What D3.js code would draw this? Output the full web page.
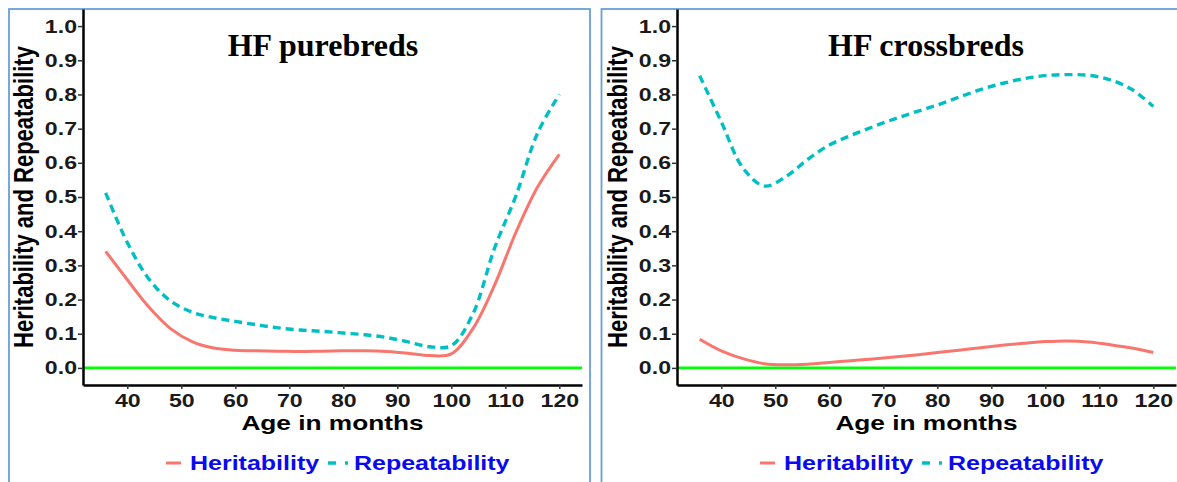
<!DOCTYPE html>
<html>
<head>
<meta charset="utf-8">
<script src="https://cdn.jsdelivr.net/npm/d3@7"></script>
<style>
  body { margin: 0; background: #fff; }
  svg { display: block; }
</style>
</head>
<body>
<script>
var ages = [36, 40, 44, 48, 52, 56, 60, 64, 68, 72, 76, 80, 84, 88, 92, 96, 100, 104, 108, 112, 116, 120];

var pureHerit = [0.341, 0.258, 0.178, 0.115, 0.077, 0.058, 0.052, 0.050, 0.049, 0.048, 0.049, 0.050,
                 0.050, 0.048, 0.043, 0.036, 0.041, 0.115, 0.242, 0.398, 0.530, 0.625];
var pureRepeat = [0.512, 0.367, 0.260, 0.196, 0.163, 0.147, 0.136, 0.126, 0.117, 0.111, 0.107, 0.102,
                  0.097, 0.089, 0.076, 0.062, 0.065, 0.158, 0.350, 0.505, 0.688, 0.800];
var crossHerit = [0.084, 0.050, 0.027, 0.012, 0.009, 0.011, 0.016, 0.021, 0.026, 0.032, 0.038, 0.045,
                  0.052, 0.059, 0.066, 0.072, 0.077, 0.079, 0.076, 0.068, 0.058, 0.045];
var crossRepeat = [0.855, 0.720, 0.585, 0.532, 0.560, 0.610, 0.652, 0.680, 0.705, 0.728, 0.749, 0.769,
                   0.792, 0.814, 0.832, 0.846, 0.855, 0.858, 0.856, 0.843, 0.815, 0.765];

var xTicks = [40, 50, 60, 70, 80, 90, 100, 110, 120];
var yTicks = [0, 0.1, 0.2, 0.3, 0.4, 0.5, 0.6, 0.7, 0.8, 0.9, 1.0];
var seriesNames = ["Heritability", "Repeatability"];
var panelTitles = ["HF purebreds", "HF crossbreds"];

var W = 1177, H = 482;
var SX = 1.25; // the original plot was stretched sideways
var sans = "'Liberation Sans', Arial, sans-serif";
var serif = "'Liberation Serif', 'Times New Roman', serif";
var red = "#F8766D", cyan = "#00BFC4";

var svg = d3.select("body").append("svg")
    .attr("width", W)
    .attr("height", H);

function drawPanel(off, boxX, boxW, title, titleX, herit, repeat) {
    var x0 = 83 + off, x1 = 582 + off;

    var x = d3.scaleLinear().domain([31.8, 124.2]).range([x0, x1]);
    var y = d3.scaleLinear().domain([-0.05, 1.05]).range([385, 9]);

    svg.append("rect")
        .attr("x", boxX).attr("y", 9)
        .attr("width", boxW).attr("height", 500)
        .attr("fill", "none")
        .attr("stroke", "#6a9fd8")
        .attr("stroke-width", 1.8);

    // zero reference line
    svg.append("line")
        .attr("x1", x0).attr("x2", x1)
        .attr("y1", y(0)).attr("y2", y(0))
        .attr("stroke", "#00ff00")
        .attr("stroke-width", 2.6);

    var line = d3.line()
        .x(function(d, i) { return x(ages[i]); })
        .y(function(d) { return y(d); })
        .curve(d3.curveCatmullRom.alpha(0.5));

    svg.append("path")
        .datum(herit)
        .attr("d", line)
        .attr("fill", "none")
        .attr("stroke", red)
        .attr("stroke-width", 3);

    svg.append("path")
        .datum(repeat)
        .attr("d", line)
        .attr("fill", "none")
        .attr("stroke", cyan)
        .attr("stroke-width", 3.4)
        .attr("stroke-dasharray", "8,5");

    var ya = svg.append("g")
        .attr("transform", "translate(" + x0 + ",0)")
        .call(d3.axisLeft(y).tickValues(yTicks).tickFormat(d3.format(".1f")).tickSize(5).tickSizeOuter(0));
    ya.selectAll("text")
        .attr("x", -6 / SX)
        .attr("transform", "scale(" + SX + ",1)")
        .style("font-family", sans).style("font-size", "18.5px").style("font-weight", "bold")
        .attr("fill", "#1a1a1a");

    var xa = svg.append("g")
        .attr("transform", "translate(0,385)")
        .call(d3.axisBottom(x).tickValues(xTicks).tickSize(4).tickPadding(5).tickSizeOuter(0));
    xa.selectAll("text")
        .attr("transform", "scale(" + SX + ",1)")
        .style("font-family", sans).style("font-size", "18.5px").style("font-weight", "bold")
        .attr("fill", "#1a1a1a");

    [ya, xa].forEach(function(a) {
        a.select(".domain").attr("stroke", "#000").attr("stroke-width", 2.5);
        a.selectAll(".tick line").attr("stroke", "#333").attr("stroke-width", 1.5);
    });

    svg.append("text")
        .attr("transform", "translate(" + (33 + off) + ",197) scale(" + SX + ",1) rotate(-90)")
        .attr("text-anchor", "middle")
        .style("font-family", sans).style("font-size", "22px").style("font-weight", "bold")
        .text("Heritability and Repeatability");

    svg.append("text")
        .attr("transform", "translate(" + ((x0 + x1) / 2) + ",430) scale(" + SX + ",1)")
        .attr("text-anchor", "middle")
        .style("font-family", sans).style("font-size", "21px").style("font-weight", "bold")
        .text("Age in months");

    svg.append("text")
        .attr("x", titleX).attr("y", 56)
        .attr("text-anchor", "middle")
        .style("font-family", serif).style("font-size", "32px").style("font-weight", "bold")
        .text(title);

    // legend
    var keys = [
        {name: seriesNames[0], color: red, k0: 166, k1: 181, tx: 190, dash: null, w: 3},
        {name: seriesNames[1], color: cyan, k0: 328, k1: 348, tx: 354, dash: "8,9", w: 3.4}
    ];
    keys.forEach(function(k) {
        svg.append("line")
            .attr("x1", k.k0 + off).attr("x2", k.k1 + off)
            .attr("y1", 463).attr("y2", 463)
            .attr("stroke", k.color)
            .attr("stroke-width", k.w)
            .attr("stroke-dasharray", k.dash);
        svg.append("text")
            .attr("transform", "translate(" + (k.tx + off) + ",470) scale(" + SX + ",1)")
            .style("font-family", sans).style("font-size", "20px").style("font-weight", "bold")
            .attr("fill", "#0a0aee")
            .text(k.name);
    });
}

drawPanel(0, 9, 581, panelTitles[0], 323, pureHerit, pureRepeat);
drawPanel(594, 601.5, 600, panelTitles[1], 926, crossHerit, crossRepeat);
</script>
</body>
</html>
